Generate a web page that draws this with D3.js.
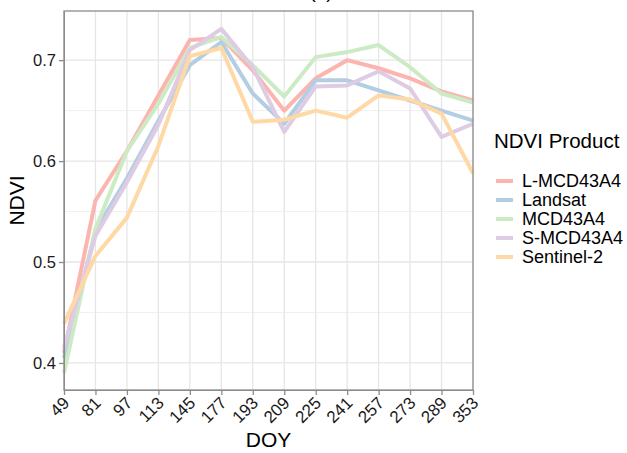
<!DOCTYPE html>
<html>
<head>
<meta charset="utf-8">
<script src="https://cdn.jsdelivr.net/npm/d3@7"></script>
<style>
  body { margin: 0; background: #fff; }
  text { font-family: "Liberation Sans", Arial, sans-serif; }
</style>
</head>
<body>
<div id="chart"></div>
<script>
// DOY categories (evenly spaced, discrete axis)
const doy = ["49", "81", "97", "113", "145", "177", "193", "209", "225", "241", "257", "273", "289", "353"];

const products = ["L-MCD43A4", "Landsat", "MCD43A4", "S-MCD43A4", "Sentinel-2"];
const colors = ["#FBB4AE", "#B3CDE3", "#CCEBC5", "#DECBE4", "#FED9A6"];

const lmcd  = [0.410, 0.561, 0.610, 0.665, 0.720, 0.722, 0.690, 0.650, 0.682, 0.700, 0.692, 0.682, 0.669, 0.660];
const lands = [0.405, 0.531, 0.583, 0.640, 0.695, 0.718, 0.667, 0.637, 0.680, 0.680, 0.670, 0.660, 0.650, 0.640];
const mcd   = [0.390, 0.533, 0.610, 0.657, 0.712, 0.723, 0.695, 0.664, 0.703, 0.708, 0.715, 0.693, 0.667, 0.658];
const smcd  = [0.415, 0.526, 0.579, 0.636, 0.710, 0.731, 0.693, 0.629, 0.674, 0.675, 0.689, 0.672, 0.624, 0.637];
const sent2 = [0.439, 0.506, 0.544, 0.615, 0.704, 0.712, 0.639, 0.641, 0.650, 0.643, 0.665, 0.661, 0.647, 0.588];

const yTicks = [0.4, 0.5, 0.6, 0.7];
const yMinor = [0.45, 0.55, 0.65];

const series = [lmcd, lands, mcd, smcd, sent2];

function draw_ndvi(){
    const W = 627, H = 453;
    const margin = { top: 11, right: 154, bottom: 63, left: 64 };
    const width = W - margin.left - margin.right;
    const height = H - margin.top - margin.bottom;

    const root = d3.select("#chart")
        .append("svg")
        .attr("width", W)
        .attr("height", H);

    // panel title, only its lower part shows in the original
    root.append("text")
        .attr("x", 321)
        .attr("y", -2)
        .attr("text-anchor", "middle")
        .style("font-size", "19px")
        .attr("fill", "#000")
        .text("(a)");

    const svg = root.append("g")
        .attr("transform", `translate(${margin.left},${margin.top})`);

    const x = d3.scalePoint()
        .domain(doy)
        .range([0, width])
        .padding(0);

    const y = d3.scaleLinear()
        .domain([0.3732, 0.7487])
        .range([height, 0]);

    // grid
    svg.selectAll(".minor")
        .data(yMinor)
        .enter()
        .append("line")
        .attr("x1", 0).attr("x2", width)
        .attr("y1", d => y(d)).attr("y2", d => y(d))
        .attr("stroke", "#f0f0f0")
        .attr("stroke-width", 1);

    svg.selectAll(".major")
        .data(yTicks)
        .enter()
        .append("line")
        .attr("x1", 0).attr("x2", width)
        .attr("y1", d => y(d)).attr("y2", d => y(d))
        .attr("stroke", "#e6e6e6")
        .attr("stroke-width", 1.3);

    svg.selectAll(".vgrid")
        .data(doy)
        .enter()
        .append("line")
        .attr("x1", d => x(d)).attr("x2", d => x(d))
        .attr("y1", 0).attr("y2", height)
        .attr("stroke", "#e6e6e6")
        .attr("stroke-width", 1.3);

    // lines
    const line = d3.line()
        .x((d, i) => x(doy[i]))
        .y(d => y(d));

    series.forEach((s, k) => {
        svg.append("path")
            .datum(s)
            .attr("fill", "none")
            .attr("stroke", colors[k])
            .attr("stroke-width", 4)
            .attr("stroke-linejoin", "round")
            .attr("d", line);
    });

    // panel border
    svg.append("rect")
        .attr("width", width)
        .attr("height", height)
        .attr("fill", "none")
        .attr("stroke", "#8c8c8c")
        .attr("stroke-width", 1.3);

    // axes
    const xAxis = svg.append("g")
        .attr("transform", `translate(0,${height})`)
        .call(d3.axisBottom(x).tickSize(5).tickSizeOuter(0));
    xAxis.select(".domain").attr("stroke", "#8c8c8c");
    xAxis.selectAll(".tick line").attr("stroke", "#8c8c8c").attr("stroke-width", 1.3);
    xAxis.selectAll("text")
        .attr("fill", "#1a1a1a")
        .style("font-size", "17px")
        .attr("dy", null)
        .attr("y", 0)
        .attr("transform", "translate(6,14) rotate(-45)")
        .style("text-anchor", "end");

    const yAxis = svg.append("g")
        .call(d3.axisLeft(y).tickValues(yTicks).tickFormat(d3.format(".1f")).tickSize(5).tickSizeOuter(0));
    yAxis.select(".domain").attr("stroke", "#8c8c8c");
    yAxis.selectAll(".tick line").attr("stroke", "#8c8c8c").attr("stroke-width", 1.3);
    yAxis.selectAll("text")
        .attr("fill", "#1a1a1a")
        .style("font-size", "16.5px")
        .attr("x", -8);

    // axis titles
    svg.append("text")
        .attr("text-anchor", "middle")
        .attr("x", width / 2)
        .attr("y", height + 57)
        .style("font-size", "21px")
        .text("DOY");

    svg.append("text")
        .attr("text-anchor", "middle")
        .attr("transform", "rotate(-90)")
        .attr("x", -height / 2)
        .attr("y", -40)
        .style("font-size", "21px")
        .text("NDVI");

    // legend
    const lg = root.append("g")
        .attr("transform", "translate(492,0)");

    lg.append("text")
        .attr("x", 2)
        .attr("y", 148)
        .style("font-size", "20.5px")
        .text("NDVI Product");

    products.forEach((p, k) => {
        const yy = 181 + k * 19;
        lg.append("line")
            .attr("x1", 4).attr("x2", 21)
            .attr("y1", yy).attr("y2", yy)
            .attr("stroke", colors[k])
            .attr("stroke-width", 4);
        lg.append("text")
            .attr("x", 30)
            .attr("y", yy + 6)
            .style("font-size", "18px")
            .text(p);
    });
}

draw_ndvi();
</script>
</body>
</html>
